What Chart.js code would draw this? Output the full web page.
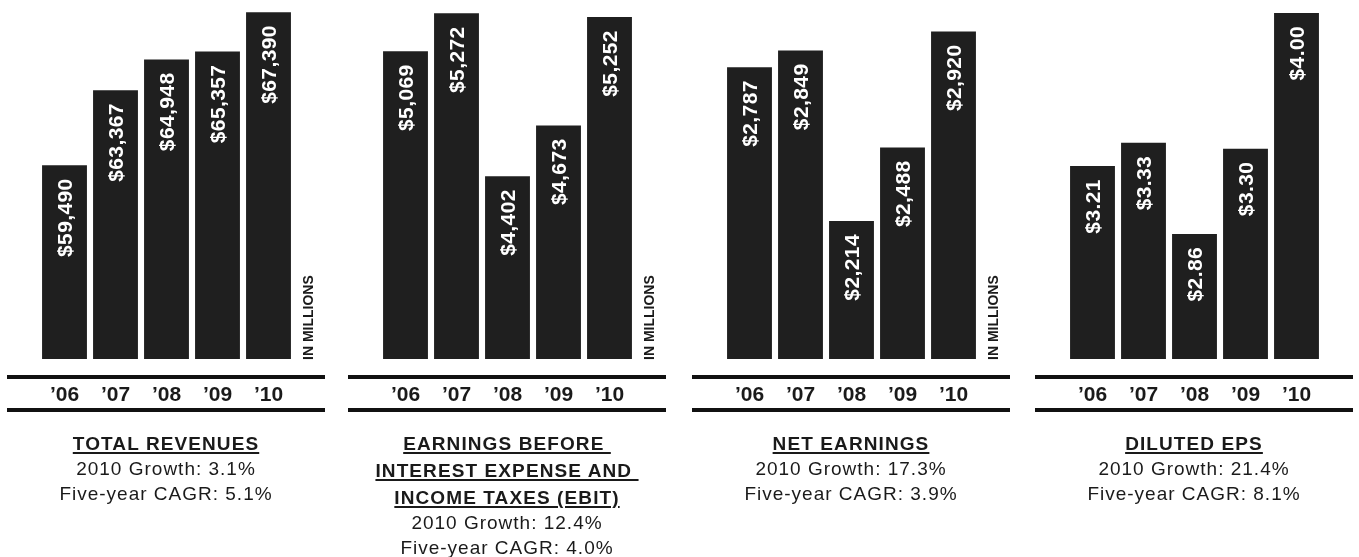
<!DOCTYPE html>
<html>
<head>
<meta charset="utf-8">
<script src="https://cdn.jsdelivr.net/npm/chart.js@4/dist/chart.umd.min.js"></script>
<style>
  body { margin: 0; background: #fff; }
  #page { position: relative; width: 1359px; height: 557px; overflow: hidden; font-family: "Liberation Sans", Arial, sans-serif; color: #1a1a1a; }
  canvas { position: absolute; top: 0; }
  .rule { position: absolute; height: 4px; background: #111; }
  .caption { position: absolute; top: 430px; width: 318px; text-align: center; }
  .title { font-weight: bold; font-size: 19px; letter-spacing: 1.1px; line-height: 27px; }
  .title span { text-decoration: underline; text-decoration-thickness: 1.5px; text-underline-offset: 2px; }
  .stat { font-size: 19px; letter-spacing: 1px; line-height: 25px; margin-top: -1.5px; }
</style>
</head>
<body>
<div id="page"></div>
<script>
// chart values
const years = ["\u201906", "\u201907", "\u201908", "\u201909", "\u201910"]
const totalRevenues = [59490, 63367, 64948, 65357, 67390]
const ebit = [5069, 5272, 4402, 4673, 5252]
const netEarnings = [2787, 2849, 2214, 2488, 2920]
const dilutedEps = [3.21, 3.33, 2.86, 3.30, 4.00]

const titles = [
  ["TOTAL REVENUES"],
  ["EARNINGS BEFORE\u00a0", "INTEREST EXPENSE AND\u00a0", "INCOME TAXES (EBIT)"],
  ["NET EARNINGS"],
  ["DILUTED EPS"],
]
const growth = ["3.1%", "12.4%", "17.3%", "21.4%"]
const cagr = ["5.1%", "4.0%", "3.9%", "8.1%"]
const units = ["IN MILLIONS", "IN MILLIONS", "IN MILLIONS", ""]

// truncated value axes, as in the print
const axisMin = [49500, 3425, 1700, 2.215]
const axisMax = [67500, 5290, 3000, 4.015]

const series = [totalRevenues, ebit, netEarnings, dilutedEps]
const panelLeft = [7, 348, 692, 1035]
const panelWidth = 318

const fmtMoney = v => "$" + v.toLocaleString("en-US")
const fmtEps = v => "$" + v.toFixed(2)
const formats = [fmtMoney, fmtMoney, fmtMoney, fmtEps]

const page = document.getElementById("page")

const barLabels = {
  id: "barLabels",
  afterDatasetsDraw(chart, args, opts) {
    const ctx = chart.ctx
    const meta = chart.getDatasetMeta(0)
    const data = chart.data.datasets[0].data
    ctx.save()
    ctx.fillStyle = "#fff"
    ctx.font = "bold 21px 'Liberation Sans', Arial, sans-serif"
    ctx.letterSpacing = "0.4px"
    ctx.textAlign = "right"
    ctx.textBaseline = "alphabetic"
    meta.data.forEach((bar, i) => {
      ctx.save()
      ctx.translate(bar.x, bar.y + 13)
      ctx.rotate(-Math.PI / 2)
      ctx.fillText(opts.format(data[i]), 0, 7.5)
      ctx.restore()
    })
    if (opts.unit) {
      const area = chart.chartArea
      ctx.fillStyle = "#1a1a1a"
      ctx.font = "bold 14px 'Liberation Sans', Arial, sans-serif"
      ctx.letterSpacing = "0px"
      ctx.textAlign = "left"
      ctx.translate(area.right + 19, area.bottom + 1)
      ctx.rotate(-Math.PI / 2)
      ctx.fillText(opts.unit, 0, 0)
    }
    ctx.restore()
  },
}

series.forEach((values, p) => {
  const left = panelLeft[p]

  const canvas = document.createElement("canvas")
  canvas.width = panelWidth
  canvas.height = 420
  canvas.style.left = left + "px"
  page.appendChild(canvas)

  const top = document.createElement("div")
  top.className = "rule"
  top.style.cssText = `left:${left}px;width:${panelWidth}px;top:375px`
  page.appendChild(top)
  const bottom = document.createElement("div")
  bottom.className = "rule"
  bottom.style.cssText = `left:${left}px;width:${panelWidth}px;top:408px`
  page.appendChild(bottom)

  const cap = document.createElement("div")
  cap.className = "caption"
  cap.style.left = left + "px"
  cap.innerHTML =
    `<div class="title">${titles[p].map(t => `<span>${t}</span>`).join("<br>")}</div>` +
    `<div class="stat">2010 Growth: ${growth[p]}<br>Five-year CAGR: ${cagr[p]}</div>`
  page.appendChild(cap)

  new Chart(canvas.getContext("2d"), {
    type: "bar",
    data: {
      labels: years,
      datasets: [
        {
          data: values,
          backgroundColor: "#1f1f1f",
          borderWidth: 0,
          borderSkipped: false,
          borderRadius: { topLeft: 0, topRight: 0, bottomLeft: 0, bottomRight: 6 },
          barPercentage: 0.88,
          categoryPercentage: 1,
        },
      ],
    },
    options: {
      responsive: false,
      animation: false,
      devicePixelRatio: 1,
      layout: { padding: { left: 32, right: 31, top: 10, bottom: 0 } },
      plugins: {
        legend: { display: false },
        tooltip: { enabled: false },
        barLabels: { format: formats[p], unit: units[p] },
      },
      scales: {
        y: { display: false, min: axisMin[p], max: axisMax[p] },
        x: {
          grid: { display: false, drawTicks: false },
          border: { display: false },
          afterFit: s => { s.height = 61 },
          ticks: {
            padding: 24,
            color: "#1a1a1a",
            font: { family: "'Liberation Sans', Arial, sans-serif", size: 21, weight: "bold" },
          },
        },
      },
    },
    plugins: [barLabels],
  })
})
</script>
</body>
</html>
